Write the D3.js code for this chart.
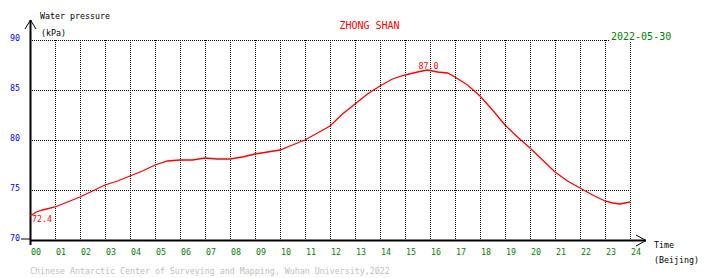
<!DOCTYPE html>
<html>
<head>
<meta charset="utf-8">
<script src="https://cdn.jsdelivr.net/npm/d3@7"></script>
<style>
  body { margin: 0; background: #fff; }
  svg text { font-family: "DejaVu Sans Mono", "Liberation Mono", monospace; }
</style>
</head>
<body>
<div id="chart"></div>
<script>
// hours (Beijing time) and water pressure (kPa)
const hours = [0, 0.25, 0.5, 1, 1.5, 2, 2.5, 3, 3.5, 4, 4.5, 5, 5.5, 6, 6.5, 7, 7.5, 8, 8.5, 9, 9.5, 10,
  10.5, 11, 11.5, 12, 12.5, 13, 13.5, 14, 14.5, 15, 15.5, 15.9, 16.3, 16.7, 17, 17.5, 18, 18.5, 19,
  19.5, 20, 20.5, 21, 21.5, 22, 22.5, 23, 23.3, 23.6, 24],
pressure = [72.4, 72.8, 73.0, 73.3, 73.8, 74.3, 74.9, 75.5, 75.9, 76.4, 76.9, 77.5, 77.9, 78.0, 78.0, 78.2, 78.1, 78.1, 78.3, 78.6, 78.8, 79.0,
  79.5, 80.0, 80.7, 81.4, 82.6, 83.6, 84.6, 85.4, 86.1, 86.5, 86.8, 87.0, 86.8, 86.7, 86.3, 85.5, 84.4, 83.0, 81.5,
  80.3, 79.2, 78.0, 76.8, 75.9, 75.2, 74.5, 73.9, 73.7, 73.6, 73.8],
yTicks = [70, 75, 80, 85, 90],
xTicks = d3.range(0, 25),
station = "ZHONG SHAN",
dateLabel = "2022-05-30",
credit = "Chinese Antarctic Center of Surveying and Mapping, Wuhan University,2022";

const width = 710, height = 278;
const x = d3.scaleLinear().domain([0, 24]).range([30, 630]);
const y = d3.scaleLinear().domain([70, 90]).range([240, 40]);
const small = "8.3px", big = "10px";

const svg = d3.select('#chart')
  .append('svg')
  .attr('width', width)
  .attr('height', height)
  .attr('viewBox', [0, 0, width, height]);

// dotted grid
svg.append('g')
  .selectAll('line')
  .data(xTicks.slice(1))
  .join('line')
  .attr('x1', d => Math.round(x(d)) + 0.5)
  .attr('x2', d => Math.round(x(d)) + 0.5)
  .attr('y1', y(90))
  .attr('y2', y(70))
  .attr('stroke', '#000')
  .attr('stroke-dasharray', '1,1');

svg.append('g')
  .selectAll('line')
  .data(yTicks.slice(1))
  .join('line')
  .attr('x1', x(0))
  .attr('x2', x(24))
  .attr('y1', d => y(d) + 0.5)
  .attr('y2', d => y(d) + 0.5)
  .attr('stroke', '#000')
  .attr('stroke-dasharray', '1,1');

// axes with arrows
const axes = svg.append('g').attr('stroke', '#000').attr('fill', 'none');
axes.append('line').attr('x1', 30.5).attr('x2', 30.5).attr('y1', 20).attr('y2', 245).attr('stroke-width', 2);
axes.append('path').attr('d', 'M25,29L30.5,20L36,29').attr('stroke-width', 1);
axes.append('line').attr('x1', 30).attr('x2', 646).attr('y1', 240.5).attr('y2', 240.5).attr('stroke-width', 2);
axes.append('path').attr('d', 'M636,235L646,240.5L636,246').attr('stroke-width', 1);
axes.append('line').attr('x1', 21).attr('x2', 30).attr('y1', 239).attr('y2', 239).attr('stroke-width', 1);

// tick labels
svg.append('g')
  .selectAll('text')
  .data(yTicks)
  .join('text')
  .attr('x', 20)
  .attr('y', d => y(d) + 1)
  .attr('text-anchor', 'end')
  .attr('font-size', small)
  .attr('fill', '#0000ff')
  .text(d => d);

svg.append('g')
  .selectAll('text')
  .data(xTicks)
  .join('text')
  .attr('x', d => x(d) + 1)
  .attr('y', 254.5)
  .attr('font-size', small)
  .attr('fill', '#008000')
  .text(d => String(d).padStart(2, '0'));

// titles
svg.append('text').attr('x', 40).attr('y', 18.5).attr('font-size', small).text('Water pressure');
svg.append('text').attr('x', 41).attr('y', 36).attr('font-size', small).text('(kPa)');
svg.append('text').attr('x', 654).attr('y', 247.5).attr('font-size', small).text('Time');
svg.append('text').attr('x', 654).attr('y', 262.5).attr('font-size', small).text('(Beijing)');
svg.append('text').attr('x', 369.5).attr('y', 29.3).attr('text-anchor', 'middle')
  .attr('font-size', big).attr('fill', '#ff0000').text(station);
svg.append('rect').attr('x', 609).attr('y', 31).attr('width', 64).attr('height', 11).attr('fill', '#fff');
svg.append('text').attr('x', 611).attr('y', 40).attr('font-size', big).attr('fill', '#008000').text(dateLabel);
svg.append('text').attr('x', 30).attr('y', 273.5).attr('font-size', small).attr('fill', '#c0c0c0').text(credit);

// pressure line
const series = hours.map((h, i) => ({ h, v: pressure[i] }));
svg.append('path')
  .datum(series)
  .attr('fill', 'none')
  .attr('stroke', '#ff0000')
  .attr('stroke-width', 1.3)
  .attr('d', d3.line().x(d => x(d.h)).y(d => y(d.v)));

// min / max labels
const maxPt = series[d3.maxIndex(series, d => d.v)];
const minPt = series[d3.minIndex(series, d => d.v)];
svg.append('text')
  .attr('x', x(maxPt.h) + 1)
  .attr('y', y(maxPt.v) - 1.5)
  .attr('text-anchor', 'middle')
  .attr('font-size', small)
  .attr('fill', '#ff0000')
  .text(maxPt.v.toFixed(1));
svg.append('text')
  .attr('x', x(minPt.h) + 2)
  .attr('y', y(minPt.v) + 6)
  .attr('font-size', small)
  .attr('fill', '#ff0000')
  .text(minPt.v.toFixed(1));
</script>
</body>
</html>
